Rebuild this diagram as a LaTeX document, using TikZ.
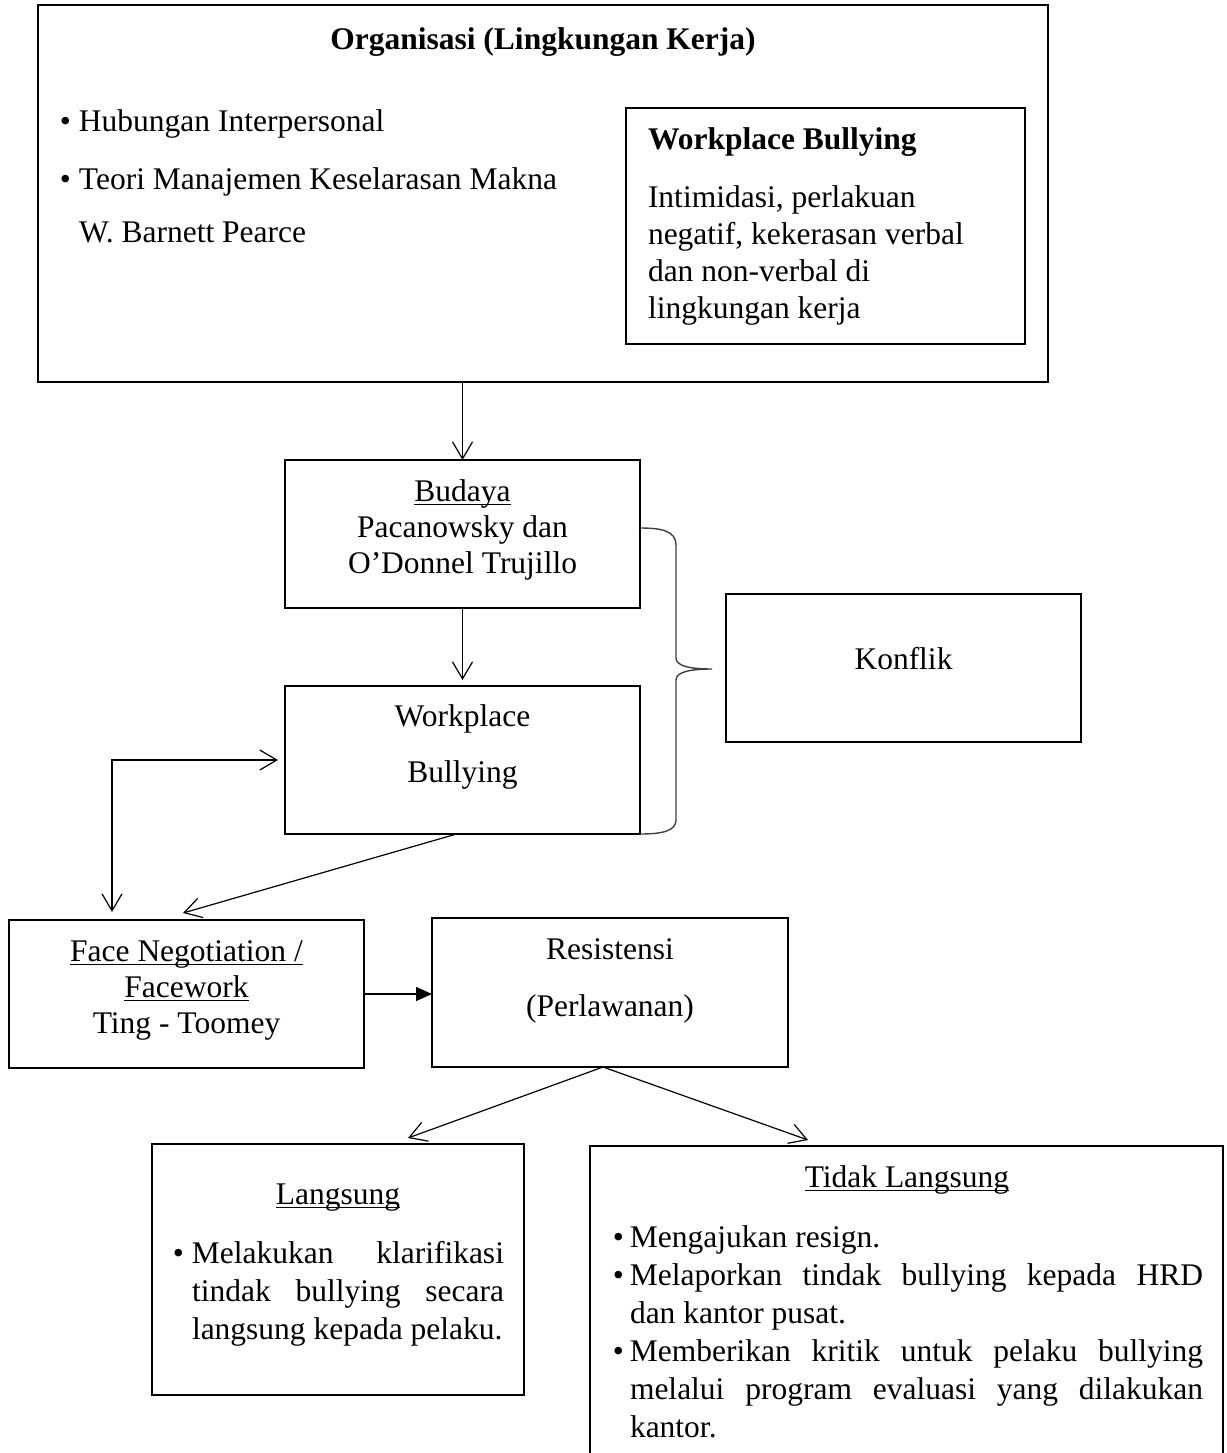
\documentclass[tikz,border=0pt]{standalone}
\usepackage{fontspec}
\setmainfont{Liberation Serif}
\usetikzlibrary{arrows.meta,calc}
\newlength\ulw
\newcommand\myul[1]{\leavevmode\settowidth\ulw{#1}\rlap{\rule[-2pt]{\ulw}{0.6pt}}#1}
\newcommand\fsz[1]{\fontsize{15.75pt}{#1}\selectfont}
\begin{document}
\begin{tikzpicture}[x=0.5pt,y=-0.5pt,
  box/.style={draw, line width=1pt, inner sep=0pt, outer sep=0pt},
  txt/.style={inner sep=0pt, outer sep=0pt, font=\fsz{19pt}},
  arr/.style={line width=0.6pt, -{Straight Barb[length=8.5pt,width=10pt]}},
  arrtwo/.style={line width=0.6pt, {Straight Barb[length=8.5pt,width=10pt]}-{Straight Barb[length=8.5pt,width=10pt]}},
  bracestyle/.style={line width=0.7pt, draw=black!75}]
\useasboundingbox (0,0) rectangle (1227,1453);
\clip (0,0) rectangle (1227,1453);
% outer box
\node[box, minimum width=505pt, minimum height=188.5pt] (org) at (543,193.5) {};
\node[txt, anchor=base, font=\fsz{19pt}\bfseries] (orgt) at (543,49) {Organisasi (Lingkungan Kerja)};
\node[txt, anchor=base west] (b1) at (79,131) {\llap{\textbullet\kern4pt}Hubungan Interpersonal};
\node[txt, anchor=base west] (b2) at (79,189) {\llap{\textbullet\kern4pt}Teori Manajemen Keselarasan Makna};
\node[txt, anchor=base west] (b3) at (79,242) {W. Barnett Pearce};
% inner box
\node[box, minimum width=199.5pt, minimum height=118pt] (wbi) at (825.5,226) {};
\node[txt, anchor=base west, font=\fsz{19pt}\bfseries] (wbit) at (648,149) {Workplace Bullying};
\node[txt, anchor=base west] (wbid) at (648,207) {\parbox[t]{180pt}{\raggedright\fsz{18.5pt}Intimidasi, perlakuan\\ negatif, kekerasan verbal\\ dan non-verbal di\\ lingkungan kerja}};
% budaya
\node[box, minimum width=177.5pt, minimum height=74pt] (bud) at (462.5,534) {};
\node[txt, anchor=base] (budt) at (462.5,501) {\parbox[t]{170pt}{\centering\fsz{18pt}\myul{Budaya}\\ Pacanowsky dan\\ O'Donnel Trujillo}};
% workplace bullying
\node[box, minimum width=177.5pt, minimum height=74pt] (wb) at (462.5,760) {};
\node[txt, anchor=base] (wbt) at (462.5,726) {\parbox[t]{170pt}{\centering\fsz{28pt}Workplace\\ Bullying}};
% konflik
\node[box, minimum width=177.5pt, minimum height=74pt] (kon) at (903.5,668) {};
\node[txt, anchor=base] (kont) at (903.5,669) {Konflik};
% face negotiation
\node[box, minimum width=177.5pt, minimum height=74pt] (face) at (186.5,994) {};
\node[txt, anchor=base] (facet) at (186.5,961) {\parbox[t]{170pt}{\centering\fsz{18pt}\myul{Face Negotiation /}\\ \myul{Facework}\\ Ting - Toomey}};
% resistensi
\node[box, minimum width=178pt, minimum height=74.5pt] (res) at (610,992.5) {};
\node[txt, anchor=base] (rest) at (610,959) {\parbox[t]{170pt}{\centering\fsz{28.5pt}Resistensi\\ (Perlawanan)}};
% langsung
\node[box, minimum width=186pt, minimum height=125.5pt] (lang) at (338,1269.5) {};
\node[txt, anchor=base] (langt) at (338,1204) {\myul{Langsung}};
\node[txt, anchor=base west] (langd) at (192,1263) {\parbox[t]{156pt}{\fsz{19pt}\leavevmode\llap{\textbullet\kern4pt}\makebox[156pt][s]{Melakukan klarifikasi}\\ \makebox[156pt][s]{tindak bullying secara}\\ langsung kepada pelaku.}};
% tidak langsung
\node[box, minimum width=316.5pt, minimum height=162pt] (tid) at (906.5,1308) {};
\node[txt, anchor=base] (tidt) at (907,1187) {\myul{Tidak Langsung}};
\node[txt, anchor=base west] (tidd) at (630,1247) {\parbox[t]{286.5pt}{\fsz{19pt}\leavevmode\llap{\textbullet\kern3pt}Mengajukan resign.\\
\llap{\textbullet\kern3pt}\makebox[286.5pt][s]{Melaporkan tindak bullying kepada HRD}\\
dan kantor pusat.\\
\llap{\textbullet\kern3pt}\makebox[286.5pt][s]{Memberikan kritik untuk pelaku bullying}\\
\makebox[286.5pt][s]{melalui program evaluasi yang dilakukan}\\
kantor.}};
% connectors
\draw[arr] (bud.north |- org.south) -- (bud.north);
\draw[arr, shorten >=3pt] (bud.south) -- (wb.north);
\draw[arr] ([xshift=-3pt]wb.south) -- ([xshift=-1.75pt,yshift=3.5pt]face.north);
\coordinate (elb) at (112,762);
\draw[arrtwo, shorten <=3.5pt, shorten >=4pt] (wb.west) -| (elb |- face.north);
\draw[line width=0.6pt, -{Triangle[length=8pt,width=7pt]}] (face.east) -- (res.west |- face.east);
\draw[arr] ([xshift=-3.5pt]res.south) -- ([xshift=35pt,yshift=3pt]lang.north);
\draw[arr] ([xshift=-3.5pt]res.south) -- ([xshift=-49.25pt,yshift=3pt]tid.north);
% brace
\draw[bracestyle] (640,528) .. controls (662,528) and (676,531) .. (676,545) -- (676,658) .. controls (676,666) and (690,669) .. (712,669) .. controls (690,669) and (676,672) .. (676,680) -- (676,820) .. controls (676,831) and (662,834) .. (640,834);
\end{tikzpicture}
\end{document}
